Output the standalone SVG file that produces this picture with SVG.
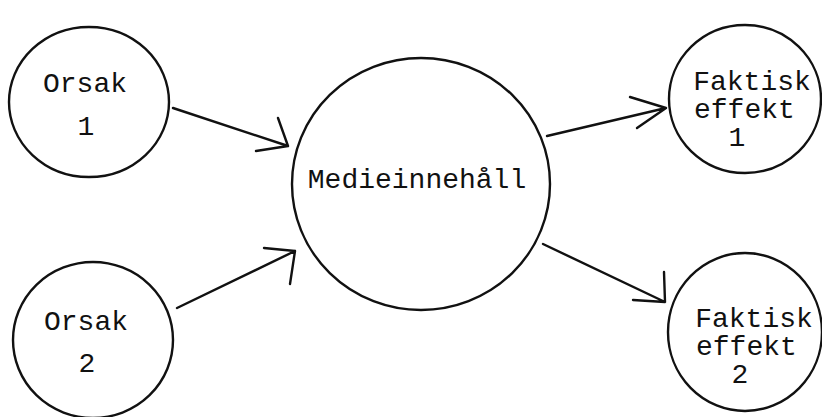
<svg xmlns="http://www.w3.org/2000/svg" width="822" height="417" viewBox="0 0 822 417">
<style>
.node{fill:none;stroke:#111;stroke-width:2.4}
.lbl{font-family:"Liberation Mono","Courier New",monospace;font-size:28px;fill:#111}
.c{text-anchor:middle}
.edge{fill:none;stroke:#111;stroke-width:2.4;stroke-linecap:round;stroke-linejoin:round}
</style>
<rect width="822" height="417" fill="#fff"/>
<g id="orsak1">
<ellipse class="node" cx="89" cy="102" rx="80" ry="75"/>
<text class="lbl c" x="85" y="92">Orsak</text>
<text class="lbl c" x="86" y="135">1</text>
</g>
<g id="orsak2">
<ellipse class="node" cx="93" cy="340" rx="80" ry="78"/>
<text class="lbl c" x="86" y="330">Orsak</text>
<text class="lbl c" x="87" y="372">2</text>
</g>
<g id="medieinnehall">
<ellipse class="node" cx="421" cy="184" rx="129" ry="126"/>
<text class="lbl c" x="417" y="188">Medieinnehåll</text>
</g>
<g id="faktisk1">
<ellipse class="node" cx="745" cy="99" rx="76" ry="74"/>
<text class="lbl c" x="752" y="90">Faktisk</text>
<text class="lbl" x="694" y="118">effekt</text>
<text class="lbl c" x="737" y="146">1</text>
</g>
<g id="faktisk2">
<ellipse class="node" cx="745" cy="332" rx="77" ry="79"/>
<text class="lbl c" x="754" y="327">Faktisk</text>
<text class="lbl" x="696" y="355">effekt</text>
<text class="lbl c" x="740" y="383">2</text>
</g>
<g id="connectors">
<path class="edge" d="M173 108 L288 146 M278 118 L288 146 L256 151"/>
<path class="edge" d="M177 308 L295 251 M264 248 L295 251 L290 284"/>
<path class="edge" d="M547 136 L666 108 M630 97 L666 108 L637 128"/>
<path class="edge" d="M543 244 L665 302 M664 272 L665 302 L633 300"/>
</g>
</svg>
